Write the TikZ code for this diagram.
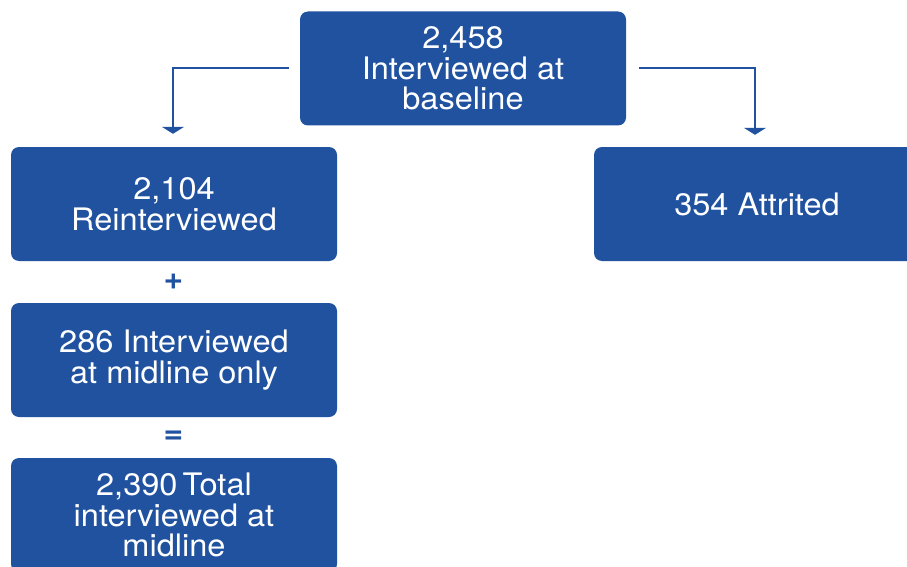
\documentclass[tikz,border=0pt]{standalone}
\usepackage{fontspec}
\setmainfont{TeX Gyre Heros}[FakeStretch=1.05]
\usetikzlibrary{arrows.meta}
\definecolor{boxblue}{HTML}{2052A0}
\begin{document}
\begin{tikzpicture}[x=1pt,y=1pt,
  bluebox/.style={fill=boxblue, draw=none, rounded corners=8pt, minimum width=326pt, minimum height=114pt,
    text=white, align=center, inner sep=0pt, font=\fontsize{31}{30.5}\selectfont},
  conn/.style={draw=boxblue, line width=2pt, -{Triangle[width=22pt,length=7pt]}},
  opsign/.style={text=boxblue, font=\fontsize{32}{32}\selectfont\bfseries, inner sep=0pt}]
\useasboundingbox (0,0) rectangle (907,-567);
\begin{scope}
\clip (0,0) rectangle (907,-567);
\node[bluebox] (top) at (463,-68.5) {2,458\\Interviewed at\\baseline};
\node[bluebox] (reint) at (174,-204) {2,104\\Reinterviewed};
\node[bluebox] (attr) at (757,-204) {354 Attrited};
\node[bluebox] (mid) at (174,-360) {286 Interviewed\\at midline only};
\node[bluebox] (total) at (174,-515) {2,390\,Total\\interviewed at\\midline};
\end{scope}
\node[opsign] (plus) at (173.5,-282) {+};
\node[opsign] (eq) at (173.5,-437) {=};
\draw[conn, shorten <=10pt, shorten >=13pt] ([xshift=-1pt]top.west) -| ([xshift=-1pt]reint.north);
\draw[conn, shorten <=13pt, shorten >=12pt] (top.east) -| ([xshift=-2pt]attr.north);
\end{tikzpicture}
\end{document}
